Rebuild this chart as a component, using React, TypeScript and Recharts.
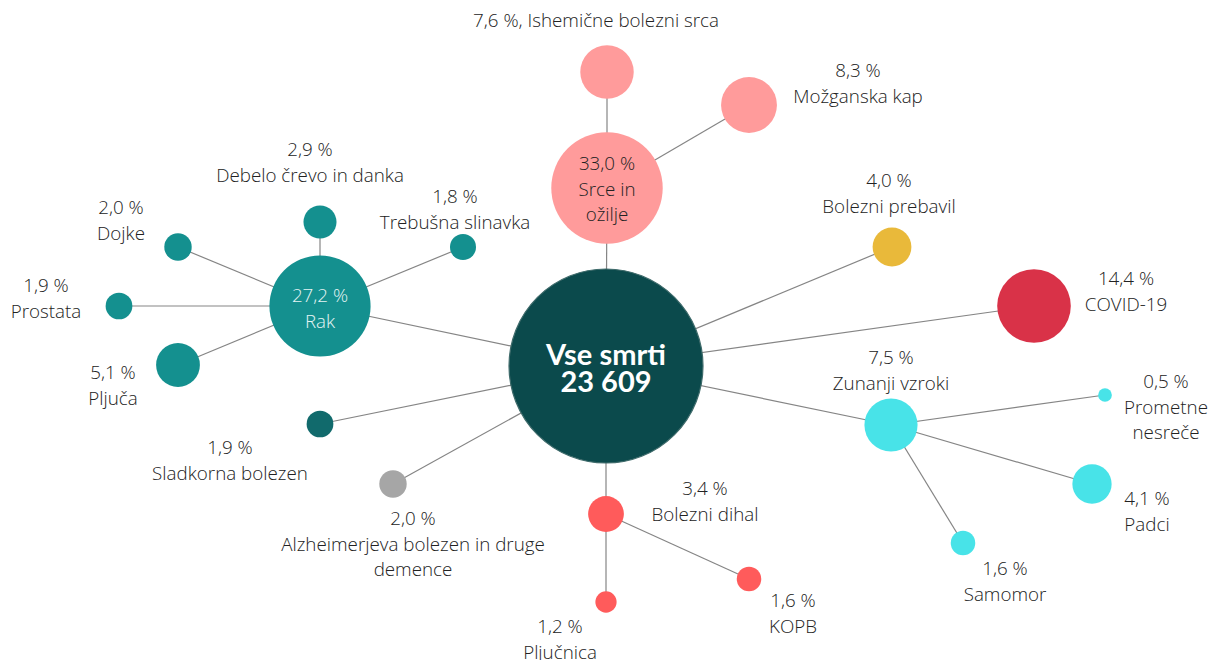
import React from 'react';
import { ScatterChart, Scatter, XAxis, YAxis, ZAxis } from 'recharts';

// Nodes: position in the diagram, share of all deaths (%), colour
const nodes = [
  { id: 'all', x: 606, y: 366, v: 100, color: '#0b4a4c' },
  { id: 'srce', x: 607, y: 188, v: 33.0, color: '#ff9b9b' },
  { id: 'ishem', x: 607, y: 72, v: 7.6, color: '#ff9b9b' },
  { id: 'kap', x: 749, y: 105, v: 8.3, color: '#ff9b9b' },
  { id: 'prebavil', x: 892, y: 247, v: 4.0, color: '#e9b93a' },
  { id: 'covid', x: 1034, y: 306, v: 14.4, color: '#d93248' },
  { id: 'zunanji', x: 891, y: 425, v: 7.5, color: '#48e3e8' },
  { id: 'prometne', x: 1105, y: 395, v: 0.5, color: '#48e3e8' },
  { id: 'padci', x: 1092, y: 484, v: 4.1, color: '#48e3e8' },
  { id: 'samomor', x: 963, y: 543, v: 1.6, color: '#48e3e8' },
  { id: 'dihal', x: 606, y: 514, v: 3.4, color: '#ff5b5b' },
  { id: 'kopb', x: 749, y: 579, v: 1.6, color: '#ff5b5b' },
  { id: 'pljucnica', x: 606, y: 602, v: 1.2, color: '#ff5b5b' },
  { id: 'alzheimer', x: 393, y: 484, v: 2.0, color: '#a6a6a6' },
  { id: 'sladkorna', x: 320, y: 424, v: 1.9, color: '#116a6c' },
  { id: 'rak', x: 320, y: 306, v: 27.2, color: '#14908f' },
  { id: 'debelo', x: 320, y: 222, v: 2.9, color: '#14908f' },
  { id: 'trebusna', x: 463, y: 247, v: 1.8, color: '#14908f' },
  { id: 'dojke', x: 178, y: 247, v: 2.0, color: '#14908f' },
  { id: 'prostata', x: 119, y: 306, v: 1.9, color: '#14908f' },
  { id: 'pljuca', x: 178, y: 365, v: 5.1, color: '#14908f' },
];

const edges = [
  ['all', 'srce'], ['srce', 'ishem'], ['srce', 'kap'],
  ['all', 'prebavil'], ['all', 'covid'], ['all', 'zunanji'],
  ['zunanji', 'prometne'], ['zunanji', 'padci'], ['zunanji', 'samomor'],
  ['all', 'dihal'], ['dihal', 'kopb'], ['dihal', 'pljucnica'],
  ['all', 'alzheimer'], ['all', 'sladkorna'], ['all', 'rak'],
  ['rak', 'debelo'], ['rak', 'trebusna'], ['rak', 'dojke'], ['rak', 'prostata'], ['rak', 'pljuca'],
];

// Labels: anchor of first text line, and text lines
const labels = [
  { x: 596, y: 20, lines: ['7,6 %, Ishemične bolezni srca'], kind: 'out' },
  { x: 858, y: 70, lines: ['8,3 %', 'Možganska kap'], kind: 'out' },
  { x: 607, y: 163, lines: ['33,0 %', 'Srce in', 'ožilje'], kind: 'out' },
  { x: 889, y: 180, lines: ['4,0 %', 'Bolezni prebavil'], kind: 'out' },
  { x: 1126, y: 278, lines: ['14,4 %', 'COVID-19'], kind: 'out' },
  { x: 891, y: 357, lines: ['7,5 %', 'Zunanji vzroki'], kind: 'out' },
  { x: 1166, y: 381, lines: ['0,5 %', 'Prometne', 'nesreče'], kind: 'out' },
  { x: 1147, y: 498, lines: ['4,1 %', 'Padci'], kind: 'out' },
  { x: 1005, y: 568, lines: ['1,6 %', 'Samomor'], kind: 'out' },
  { x: 705, y: 488, lines: ['3,4 %', 'Bolezni dihal'], kind: 'out' },
  { x: 793, y: 600, lines: ['1,6 %', 'KOPB'], kind: 'out' },
  { x: 560, y: 626, lines: ['1,2 %', 'Pljučnica'], kind: 'out' },
  { x: 413, y: 518, lines: ['2,0 %', 'Alzheimerjeva bolezen in druge', 'demence'], kind: 'out' },
  { x: 230, y: 447, lines: ['1,9 %', 'Sladkorna bolezen'], kind: 'out' },
  { x: 320, y: 295, lines: ['27,2 %', 'Rak'], kind: 'inLight' },
  { x: 310, y: 149, lines: ['2,9 %', 'Debelo črevo in danka'], kind: 'out' },
  { x: 455, y: 196, lines: ['1,8 %', 'Trebušna slinavka'], kind: 'out' },
  { x: 121, y: 207, lines: ['2,0 %', 'Dojke'], kind: 'out' },
  { x: 46, y: 285, lines: ['1,9 %', 'Prostata'], kind: 'out' },
  { x: 113, y: 372, lines: ['5,1 %', 'Pljuča'], kind: 'out' },
  { x: 606, y: 353, lines: ['Vse smrti', '23 609'], kind: 'center' },
];

const FONT = '"Open Sans", Lato, sans-serif';
const BOLD_FONT = 'Lato, "Open Sans", sans-serif';
const byId: Record<string, any> = Object.fromEntries(nodes.map((n) => [n.id, n]));

const NodeShape = (props: any) => {
  const { cx, cy, width, payload } = props;
  const r = width / 2;
  const isCenter = payload.id === 'all';
  return (
    <circle
      cx={cx}
      cy={cy}
      r={r}
      fill={payload.color}
      stroke={isCenter ? '#3f6b6b' : 'none'}
      strokeWidth={isCenter ? 1.2 : 0}
    />
  );
};

const LabelShape = (props: any) => {
  const { cx, cy, payload } = props;
  const isCenter = payload.kind === 'center';
  const lh = isCenter ? 27 : 25.5;
  const fill = isCenter ? '#ffffff' : payload.kind === 'inLight' ? '#e4f4f4' : '#222222';
  return (
    <g>
      {payload.lines.map((t: string, i: number) => (
        <text
          key={i}
          x={cx}
          y={cy + i * lh}
          textAnchor="middle"
          dominantBaseline="central"
          fontFamily={isCenter ? BOLD_FONT : FONT}
          fontSize={isCenter ? 29 : 18.8}
          fontWeight={isCenter ? 700 : 300}
          fill={fill}
        >
          {t}
        </text>
      ))}
    </g>
  );
};

const Empty = () => <g />;

export default function App() {
  return (
    <div style={{ position: 'absolute', left: 0, top: 0, background: '#fff' }}>
      <ScatterChart width={1210} height={660} margin={{ top: 0, right: 0, bottom: 0, left: 0 }}>
        <XAxis type="number" dataKey="x" domain={[0, 1210]} hide allowDataOverflow />
        <YAxis type="number" dataKey="y" domain={[0, 660]} reversed hide allowDataOverflow />
        <ZAxis type="number" dataKey="v" domain={[0, 100]} range={[0, Math.PI * 97 * 97]} />
        {edges.map(([a, b], i) => (
          <Scatter
            key={'e' + i}
            data={[byId[a], byId[b]]}
            line={{ stroke: '#858585', strokeWidth: 1.2 }}
            lineType="joint"
            shape={Empty}
            isAnimationActive={false}
            legendType="none"
          />
        ))}
        <Scatter data={nodes} shape={NodeShape} isAnimationActive={false} legendType="none" />
        <Scatter data={labels} shape={LabelShape} isAnimationActive={false} legendType="none" />
      </ScatterChart>
    </div>
  );
}
